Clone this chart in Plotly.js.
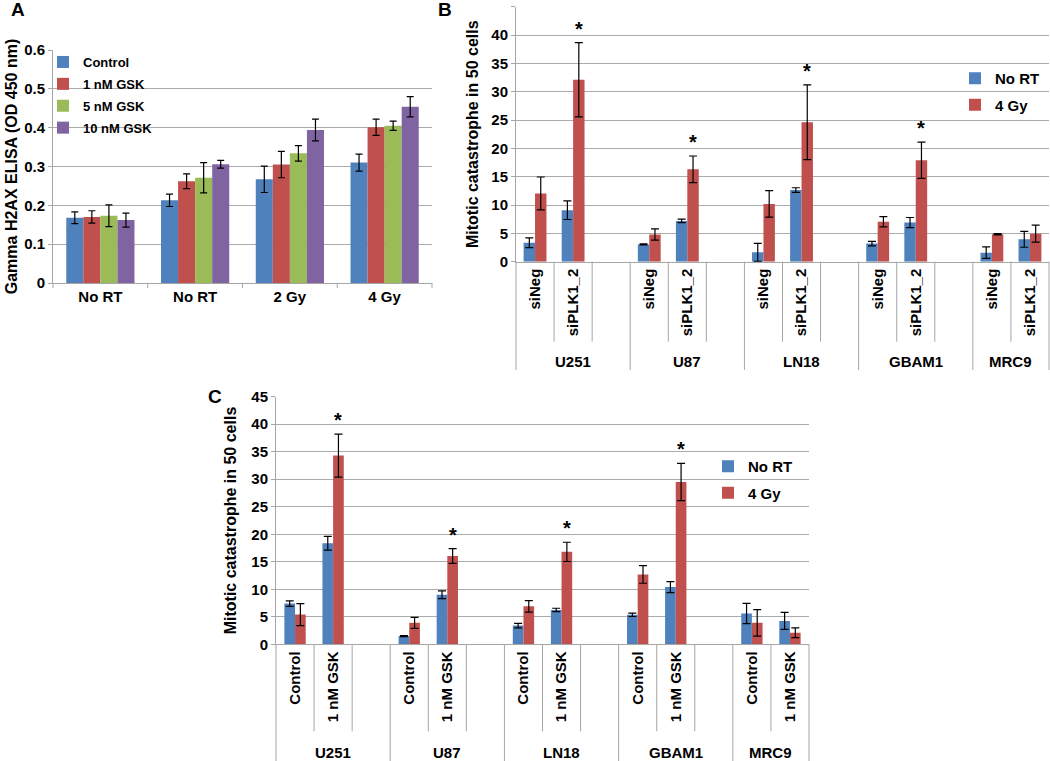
<!DOCTYPE html>
<html>
<head>
<meta charset="utf-8">
<script src="https://cdn.plot.ly/plotly-3.0.1.min.js"></script>
<style>
  html, body { margin: 0; padding: 0; background: #fff; }
  #plot { width: 1050px; height: 761px; }
</style>
</head>
<body>
<div id="plot"></div>
<script>
// Panel A: gamma H2AX ELISA
const aCats = ['No RT', 'No RT', '2 Gy', '4 Gy'];
const aSeries = ['Control', '1 nM GSK', '5 nM GSK', '10 nM GSK'];
const aControl = [0.168, 0.213, 0.267, 0.310];
const aControlErr = [0.015, 0.016, 0.034, 0.022];
const aGsk1 = [0.170, 0.262, 0.305, 0.401];
const aGsk1Err = [0.016, 0.019, 0.034, 0.021];
const aGsk5 = [0.173, 0.271, 0.334, 0.405];
const aGsk5Err = [0.028, 0.039, 0.020, 0.012];
const aGsk10 = [0.162, 0.306, 0.394, 0.454];
const aGsk10Err = [0.018, 0.010, 0.028, 0.026];

// Panel B: siRNA, mitotic catastrophe
const cells = ['U251', 'U87', 'LN18', 'GBAM1', 'MRC9'];
const bSubs = ['siNeg', 'siPLK1_2'];
const bNoRT = [3.35, 9.1, 3.05, 7.2, 1.65, 12.65, 3.2, 6.9, 1.6, 3.95];
const bNoRTErr = [0.85, 1.65, 0.1, 0.3, 1.6, 0.4, 0.4, 0.9, 1.0, 1.4];
const b4Gy = [12.05, 32.1, 4.8, 16.3, 10.2, 24.6, 7.05, 17.9, 4.85, 4.95];
const b4GyErr = [2.9, 6.55, 1.0, 2.35, 2.35, 6.6, 0.9, 3.2, 0.1, 1.5];
const bStar = [0, 1, 0, 1, 0, 1, 0, 1, 0, 0];

// Panel C: GSK, mitotic catastrophe
const cSubs = ['Control', '1 nM GSK'];
const cNoRT = [7.4, 18.35, 1.5, 9.0, 3.4, 6.25, 5.35, 10.4, 5.6, 4.25];
const cNoRTErr = [0.5, 1.25, 0.1, 0.7, 0.4, 0.3, 0.3, 1.0, 1.85, 1.55];
const c4Gy = [5.4, 34.3, 3.9, 16.05, 6.9, 16.8, 12.7, 29.5, 3.9, 2.1];
const c4GyErr = [2.0, 3.9, 1.0, 1.35, 1.05, 1.75, 1.6, 3.4, 2.4, 0.9];
const cStar = [0, 1, 0, 1, 0, 1, 0, 1, 0, 0];

const radSeries = ['No RT', '4 Gy'];

(function(){
  const FONT = 'Liberation Sans, Arial, sans-serif';
  const W = 1050, H = 761;
  const GRID = '#ABABAB';
  const LINE = '#A6A6A6';
  const aColors = ['#4F81BD', '#C0504D', '#9BBB59', '#8064A2'];
  const radColors = ['#4F81BD', '#C0504D'];

  // panel boxes in pixels (left, right, top, bottom)
  const boxA = {l: 53, r: 432, t: 50, b: 283};
  const boxB = {l: 516, r: 1049, t: 6.7, b: 261.7};
  const boxC = {l: 276, r: 809, t: 396.7, b: 644.3};
  const xdom = bx => [bx.l / W, bx.r / W];
  const ydom = bx => [1 - bx.b / H, 1 - bx.t / H];

  function errBar(arr, w){
    return {type: 'data', array: arr, visible: true, color: '#000', thickness: 1.2, width: w};
  }

  // category slot: 3 per cell line (2 conditions + a blank)
  const slot = k => Math.floor(k / 2) * 3 + (k % 2);
  const nSlots = cells.length * 3 - 1;

  const traces = [];

  // --- A
  const aVals = [aControl, aGsk1, aGsk5, aGsk10];
  const aErrs = [aControlErr, aGsk1Err, aGsk5Err, aGsk10Err];
  const aW = 0.18;
  aSeries.forEach((name, i) => {
    traces.push({
      type: 'bar', name: name, x: aCats.map((c, j) => j), y: aVals[i],
      xaxis: 'x', yaxis: 'y', legend: 'legend', legendgroup: 'a' + i,
      width: aW, offset: -2 * aW + i * aW,
      marker: {color: aColors[i]},
      error_y: errBar(aErrs[i], 3.5),
      hoverinfo: 'y'
    });
  });

  // --- B and C
  function radTraces(noRT, noRTErr, gy, gyErr, ax, leg, bw){
    const xs = noRT.map((v, k) => slot(k));
    [[noRT, noRTErr], [gy, gyErr]].forEach((s, i) => {
      traces.push({
        type: 'bar', name: radSeries[i], x: xs, y: s[0],
        xaxis: 'x' + ax, yaxis: 'y' + ax, legend: leg, legendgroup: leg + i,
        width: bw, offset: -bw + i * bw,
        marker: {color: radColors[i]},
        error_y: errBar(s[1], 4),
        hoverinfo: 'y'
      });
    });
  }
  const bW = 0.3, cW = 0.28;
  radTraces(bNoRT, bNoRTErr, b4Gy, b4GyErr, '2', 'legend2', bW);
  radTraces(cNoRT, cNoRTErr, c4Gy, c4GyErr, '3', 'legend3', cW);

  const annotations = [];
  const shapes = [];
  const boldFont = (size) => ({family: FONT, size: size, color: '#000', weight: 'bold'});

  // panel letters
  [['A', 18, 9], ['B', 444.5, 9], ['C', 214.5, 396.5]].forEach(p => {
    annotations.push({text: p[0], xref: 'paper', yref: 'paper', x: p[1] / W, y: 1 - p[2] / H,
      xanchor: 'center', yanchor: 'middle', showarrow: false, font: boldFont(19)});
  });

  // asterisks over significant 4 Gy bars
  function stars(flags, vals, errs, ax, bw){
    flags.forEach((f, k) => {
      if(!f) return;
      annotations.push({text: '*', xref: 'x' + ax, yref: 'y' + ax,
        x: slot(k) + bw / 2, y: vals[k] + errs[k], yanchor: 'bottom', yshift: 1,
        showarrow: false, font: boldFont(20)});
    });
  }
  stars(bStar, b4Gy, b4GyErr, '2', bW);
  stars(cStar, c4Gy, c4GyErr, '3', cW);

  // cell line labels and Excel style separators under the axis
  function groupAxis(bx, ax, labelY, subLen, groupBottom){
    const y0 = 1 - bx.b / H;
    cells.forEach((c, i) => {
      const last = (i === cells.length - 1);
      const mid = last ? i * 3 + 0.5 : i * 3 + 1;
      annotations.push({text: c, xref: 'x' + ax, yref: 'paper', x: mid, y: 1 - labelY / H,
        xanchor: 'center', yanchor: 'middle', showarrow: false, font: boldFont(15)});
    });
    for(let b = 0; b <= nSlots; b++){
      const isGroup = (b % 3 === 0) || b === nSlots;
      const y1 = isGroup ? 1 - groupBottom / H : y0 - subLen / H;
      shapes.push({type: 'line', xref: 'x' + ax + ' domain', yref: 'paper',
        x0: b / nSlots, x1: b / nSlots, y0: y0, y1: y1,
        line: {color: LINE, width: 1}, layer: 'above'});
    }
  }
  groupAxis(boxB, '2', 361, 80, 370);
  groupAxis(boxC, '3', 752, 87, 761);

  // small boundary ticks on A's x axis
  for(let b = 0; b <= aCats.length; b++){
    const y0 = 1 - boxA.b / H;
    shapes.push({type: 'line', xref: 'x domain', yref: 'paper',
      x0: b / aCats.length, x1: b / aCats.length, y0: y0, y1: y0 - 5 / H,
      line: {color: LINE, width: 1}});
  }

  function yAxis(bx, anchor, range, dtick, title, standoff){
    return {
      domain: ydom(bx), anchor: anchor, range: range, dtick: dtick,
      showgrid: true, gridcolor: GRID, gridwidth: 1, zeroline: false,
      showline: true, linecolor: LINE, linewidth: 1,
      ticks: 'outside', ticklen: 4, tickcolor: LINE,
      tickfont: boldFont(15), fixedrange: true,
      title: {text: title, font: boldFont(16), standoff: standoff}
    };
  }
  function xAxis(bx, anchor, range, tickvals, ticktext, angle){
    return {
      domain: xdom(bx), anchor: anchor, range: range,
      tickvals: tickvals, ticktext: ticktext, tickangle: angle,
      ticks: '', showgrid: false, zeroline: false,
      showline: true, linecolor: LINE, linewidth: 1,
      tickfont: boldFont(15), fixedrange: true
    };
  }

  const slotVals = bNoRT.map((v, k) => slot(k));
  const bTickText = bNoRT.map((v, k) => bSubs[k % 2]);
  const cTickText = cNoRT.map((v, k) => cSubs[k % 2]);

  const legendBase = (size, x, y, gap) => ({
    x: x / W, y: 1 - y / H, xanchor: 'left', yanchor: 'top',
    font: boldFont(size), bgcolor: 'rgba(0,0,0,0)', tracegroupgap: gap
  });

  const layout = {
    width: W, height: H,
    margin: {l: 0, r: 0, t: 0, b: 0},
    paper_bgcolor: '#fff', plot_bgcolor: '#fff',
    font: {family: FONT, color: '#000'},
    showlegend: true,
    xaxis: xAxis(boxA, 'y', [-0.5, aCats.length - 0.5], aCats.map((c, j) => j), aCats, 0),
    yaxis: yAxis(boxA, 'x', [0, 0.6], 0.1, 'Gamma H2AX ELISA (OD 450 nm)', 2),
    xaxis2: xAxis(boxB, 'y2', [-0.5, nSlots - 0.5], slotVals, bTickText, -90),
    yaxis2: yAxis(boxB, 'x2', [0, 45], 5, 'Mitotic catastrophe in 50 cells', 8),
    xaxis3: xAxis(boxC, 'y3', [-0.5, nSlots - 0.5], slotVals, cTickText, -90),
    yaxis3: yAxis(boxC, 'x3', [0, 45], 5, 'Mitotic catastrophe in 50 cells', 10),
    legend: legendBase(13, 43, 47, 2),
    legend2: legendBase(15, 955, 62, 4),
    legend3: legendBase(15, 708, 450, 4),
    annotations: annotations,
    shapes: shapes
  };

  Plotly.newPlot('plot', traces, layout, {displayModeBar: false, staticPlot: true});
})();
</script>
</body>
</html>
